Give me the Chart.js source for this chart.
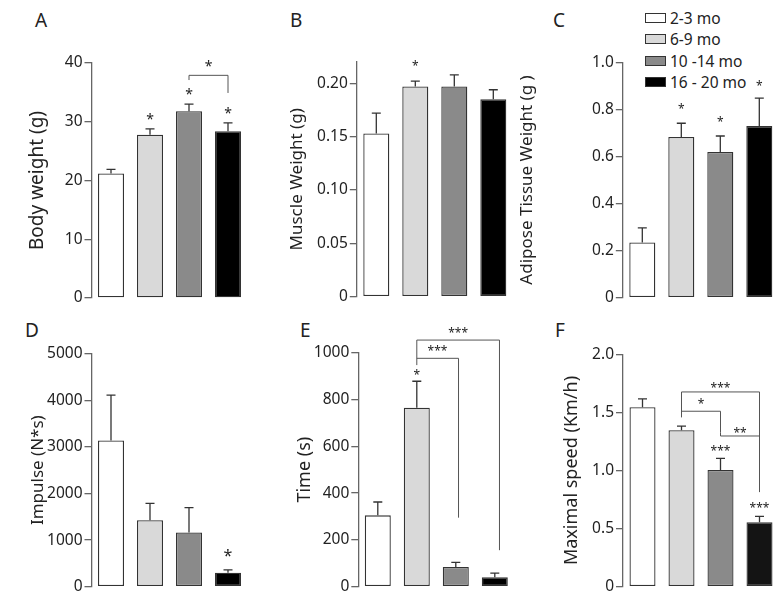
<!DOCTYPE html>
<html>
<head>
<meta charset="utf-8">
<script src="https://cdn.jsdelivr.net/npm/chart.js@4.4.0/dist/chart.umd.min.js"></script>
<style>
  body { margin: 0; background: #fff; width: 780px; height: 598px; position: relative; overflow: hidden; font-family: "Noto Sans", sans-serif; color: #222; }
  canvas { position: absolute; }
  .lab { position: absolute; font-size: 19px; line-height: 19px; }
  .leg { position: absolute; left: 645px; height: 16px; font-size: 15.5px; line-height: 16px; display: flex; align-items: center; white-space: nowrap; }
  .leg .box { width: 19px; height: 8px; border: 1px solid #333; margin-right: 4px; }
</style>
</head>
<body>
<div class="lab" style="left:35px;top:11px">A</div>
<div class="lab" style="left:290px;top:11px">B</div>
<div class="lab" style="left:553px;top:11px">C</div>
<div class="lab" style="left:25px;top:321px">D</div>
<div class="lab" style="left:300px;top:321px">E</div>
<div class="lab" style="left:555px;top:321px">F</div>
<div id="legend"></div>

<canvas id="cA" width="258" height="310" style="left:0;top:0"></canvas>
<canvas id="cB" width="260" height="310" style="left:255px;top:0"></canvas>
<canvas id="cC" width="265" height="310" style="left:515px;top:0"></canvas>
<canvas id="cD" width="258" height="298" style="left:0;top:300px"></canvas>
<canvas id="cE" width="260" height="298" style="left:255px;top:300px"></canvas>
<canvas id="cF" width="265" height="298" style="left:515px;top:300px"></canvas>

<script>
// age groups and bar fills
const groups = ['2-3 mo', '6-9 mo', '10 -14 mo', '16 - 20 mo'];
const groupColors = ['#ffffff', '#d9d9d9', '#8a8a8a', '#000000'];

// A - body weight
const bodyWeight = [21.2, 27.8, 31.8, 28.4];
const bodyWeightSem = [0.7, 1.0, 1.2, 1.4];
const bodyWeightTicks = [0, 10, 20, 30, 40];

// B - muscle weight
const muscleWeight = [0.153, 0.197, 0.197, 0.185];
const muscleWeightSem = [0.019, 0.005, 0.011, 0.009];
const muscleWeightTicks = [0, 0.05, 0.10, 0.15, 0.20];

// C - adipose tissue
const adiposeWeight = [0.235, 0.683, 0.619, 0.729];
const adiposeWeightSem = [0.062, 0.058, 0.068, 0.119];
const adiposeWeightTicks = [0, 0.2, 0.4, 0.6, 0.8, 1.0];

// D - impulse
const impulse = [3139, 1428, 1165, 298];
const impulseSem = [973, 362, 532, 64];
const impulseTicks = [0, 1000, 2000, 3000, 4000, 5000];

// E - time
const runTime = [305, 765, 84, 40];
const runTimeSem = [57, 113, 20, 18];
const runTimeTicks = [0, 200, 400, 600, 800, 1000];

// F - maximal speed
const maxSpeed = [1.544, 1.346, 1.004, 0.555];
const maxSpeedSem = [0.072, 0.036, 0.100, 0.051];
const maxSpeedTicks = [0, 0.5, 1.0, 1.5, 2.0];

// legend (HTML)
const legend = document.getElementById('legend');
const legendTops = [10, 31, 53, 73.5];
groups.forEach((g, i) => {
  const row = document.createElement('div');
  row.className = 'leg';
  row.style.top = legendTops[i] + 'px';
  row.innerHTML = '<span class="box" style="background:' + groupColors[i] + '"></span>' + g;
  legend.appendChild(row);
});

const FONT = '"Noto Sans", sans-serif';

// error bars: upward only, with a small cap
const errorBars = {
  id: 'errorBars',
  afterDatasetsDraw(chart) {
    const ctx = chart.ctx;
    const y = chart.scales.y;
    const ds = chart.data.datasets[0];
    ctx.save();
    ctx.strokeStyle = '#333';
    ctx.lineWidth = 1.3;
    chart.getDatasetMeta(0).data.forEach((bar, i) => {
      const top = y.getPixelForValue(ds.data[i] + ds.sem[i]);
      ctx.beginPath();
      ctx.moveTo(bar.x, bar.y);
      ctx.lineTo(bar.x, top);
      ctx.moveTo(bar.x - 4.5, top);
      ctx.lineTo(bar.x + 4.5, top);
      ctx.stroke();
    });
    ctx.restore();
  }
};

// significance stars and brackets
function notes(stars, brackets) {
  return {
    id: 'notes',
    afterDraw(chart) {
      const ctx = chart.ctx;
      const {x, y} = chart.scales;
      ctx.save();
      ctx.strokeStyle = '#555';
      ctx.lineWidth = 1;
      brackets.forEach(b => {
        const x1 = x.getPixelForValue(b.x1), x2 = x.getPixelForValue(b.x2);
        ctx.beginPath();
        ctx.moveTo(x1, y.getPixelForValue(b.y1));
        ctx.lineTo(x1, y.getPixelForValue(b.y));
        ctx.lineTo(x2, y.getPixelForValue(b.y));
        ctx.lineTo(x2, y.getPixelForValue(b.y2));
        ctx.stroke();
      });
      ctx.fillStyle = '#222';
      ctx.textAlign = 'center';
      ctx.textBaseline = 'alphabetic';
      stars.forEach(s => {
        ctx.font = s.size + 'px ' + FONT;
        ctx.fillText(s.text, x.getPixelForValue(s.x), y.getPixelForValue(s.y) + 0.58 * s.size);
      });
      ctx.restore();
    }
  };
}

function panel(id, p) {
  const colors = p.colors || groupColors;
  new Chart(document.getElementById(id), {
    type: 'bar',
    data: {
      labels: groups,
      datasets: [{
        data: p.values,
        sem: p.sem,
        backgroundColor: colors,
        borderColor: '#333',
        borderWidth: 1.3,
        borderSkipped: false,
        barPercentage: 0.667,
        categoryPercentage: 1
      }]
    },
    options: {
      responsive: false,
      animation: false,
      devicePixelRatio: 1,
      layout: { padding: { left: 0, top: p.pad[0], right: p.pad[1], bottom: p.pad[2] } },
      plugins: { legend: { display: false }, tooltip: { enabled: false } },
      scales: {
        x: { display: false },
        y: {
          min: 0,
          max: p.max,
          afterBuildTicks: s => { s.ticks = p.ticks.map(v => ({ value: v })); },
          afterFit: s => { s.width = p.axisW; },
          grid: { display: true, drawOnChartArea: false, drawTicks: true, tickLength: 7, tickColor: '#666', lineWidth: 1.3 },
          border: { display: true, color: '#666', width: 1.3 },
          ticks: {
            padding: 2,
            color: '#222',
            font: { family: FONT, size: 15.5 },
            callback: v => v === 0 ? '0' : v.toFixed(p.digits)
          },
          title: {
            display: true,
            text: p.title,
            color: '#222',
            font: { family: FONT, size: p.titleSize },
            padding: { top: p.titleX - 0.6 * p.titleSize, bottom: 0 }
          }
        }
      }
    },
    plugins: [errorBars, notes(p.stars || [], p.brackets || [])]
  });
}

panel('cA', {
  values: bodyWeight, sem: bodyWeightSem, ticks: bodyWeightTicks, max: 40, digits: 0,
  title: 'Body weight (g)', titleSize: 19, titleX: 38,
  axisW: 91.5, pad: [63, 10.5, 12],
  stars: [
    { x: 1, y: 31.0, text: '*', size: 14 },
    { x: 2, y: 35.3, text: '*', size: 14 },
    { x: 3, y: 32.0, text: '*', size: 14 },
    { x: 2.5, y: 40.0, text: '*', size: 14 }
  ],
  brackets: [{ x1: 2, x2: 3, y: 37.9, y1: 37.1, y2: 34.9 }]
});

panel('cB', {
  values: muscleWeight, sem: muscleWeightSem, ticks: muscleWeightTicks, max: 0.22, digits: 2,
  title: 'Muscle Weight (g)', titleSize: 17, titleX: 41.7,
  axisW: 101.8, pad: [62, 2.2, 13.3],
  stars: [{ x: 1, y: 0.219, text: '*', size: 12 }]
});

panel('cC', {
  values: adiposeWeight, sem: adiposeWeightSem, ticks: adiposeWeightTicks, max: 1.0, digits: 1,
  title: 'Adipose Tissue Weight (g )', titleSize: 17, titleX: 12,
  axisW: 107.8, pad: [62.3, 1.2, 12.3],
  stars: [
    { x: 1, y: 0.814, text: '*', size: 12 },
    { x: 2, y: 0.758, text: '*', size: 12 },
    { x: 3, y: 0.911, text: '*', size: 12 }
  ]
});

panel('cD', {
  values: impulse, sem: impulseSem, ticks: impulseTicks, max: 5000, digits: 0,
  title: 'Impulse (N*s)', titleSize: 17, titleX: 38,
  axisW: 91.5, pad: [53.7, 10.5, 9.7],
  stars: [{ x: 3, y: 746, text: '*', size: 16 }]
});

panel('cE', {
  values: runTime, sem: runTimeSem, ticks: runTimeTicks, max: 1000, digits: 0,
  title: 'Time (s)', titleSize: 18, titleX: 50,
  axisW: 103.3, pad: [52.7, 0.7, 10.3],
  stars: [
    { x: 1, y: 919, text: '*', size: 12 },
    { x: 1.53, y: 1019, text: '***', size: 12 },
    { x: 2.06, y: 1097, text: '***', size: 12 }
  ],
  brackets: [
    { x1: 1, x2: 2.07, y: 976, y1: 976, y2: 295 },
    { x1: 1, x2: 3.12, y: 1054, y1: 947, y2: 156 }
  ]
});

panel('cF', {
  values: maxSpeed, sem: maxSpeedSem, ticks: maxSpeedTicks, max: 2.0, digits: 1,
  colors: ['#ffffff', '#d9d9d9', '#8a8a8a', '#141414'],
  title: 'Maximal speed (Km/h)', titleSize: 18, titleX: 56.7,
  axisW: 108, pad: [54.3, 1, 9.3],
  stars: [
    { x: 2, y: 1.738, text: '***', size: 12 },
    { x: 1.5, y: 1.596, text: '*', size: 12 },
    { x: 2.5, y: 1.346, text: '**', size: 12 },
    { x: 2, y: 1.192, text: '***', size: 12 },
    { x: 3, y: 0.700, text: '***', size: 12 }
  ],
  brackets: [
    { x1: 1, x2: 3, y: 1.676, y1: 1.457, y2: 0.814 },
    { x1: 1, x2: 2, y: 1.510, y1: 1.510, y2: 1.326 },
    { x1: 2, x2: 3, y: 1.297, y1: 1.326, y2: 1.297 }
  ]
});
</script>
</body>
</html>
